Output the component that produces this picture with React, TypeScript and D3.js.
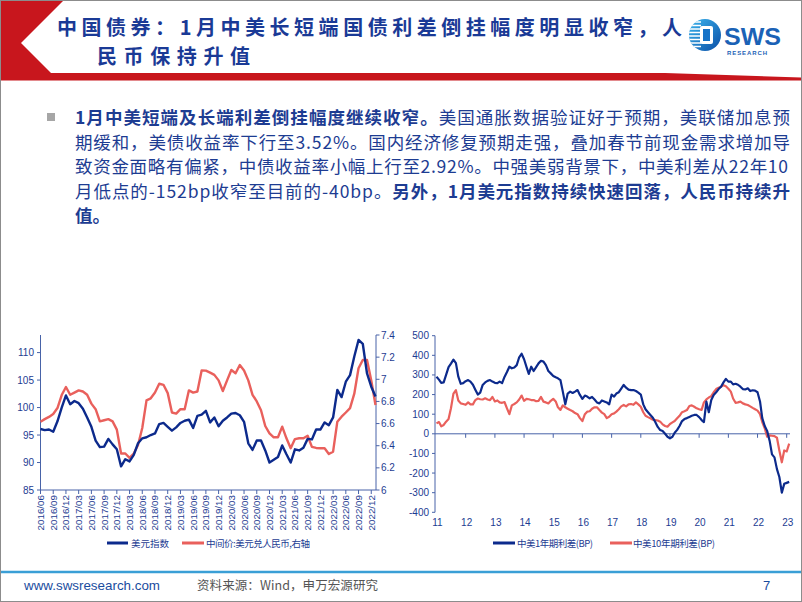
import React from 'react';
import * as d3 from 'd3';

// ---------- Left chart data (monthly, 2016/06 – 2023/01) ----------
const dxy = [
  96.1, 95.9, 96.0, 95.6, 97.5, 100.0, 102.2, 100.6, 101.2, 100.8,
  99.8, 98.2, 96.5, 94.0, 92.8, 92.9, 94.3, 93.3, 92.4, 89.3,
  90.6, 90.2, 91.4, 93.5, 94.4, 94.6, 95.0, 95.3, 97.0, 97.2,
  96.5, 95.8, 96.4, 97.2, 97.6, 97.8, 96.3, 98.5, 98.7, 99.4,
  97.3, 98.2, 96.6, 97.6, 98.2, 98.9, 99.0, 98.6, 97.4, 93.5,
  92.3, 94.0, 94.0, 92.2, 90.0, 90.5, 91.0, 93.1, 91.5, 90.0,
  92.4, 92.2, 92.7, 94.3, 94.2, 96.0, 96.0, 97.3, 96.8, 98.2,
  103.2, 101.9, 104.7, 105.9, 109.3, 112.3, 111.6, 106.2, 103.8, 102.0,
];
const usdcny = [
  6.617, 6.64, 6.66, 6.687, 6.74, 6.858, 6.93, 6.86, 6.88, 6.90,
  6.89, 6.86, 6.78, 6.73, 6.62, 6.63, 6.64, 6.62, 6.545, 6.33,
  6.33, 6.29, 6.33, 6.406, 6.56, 6.81, 6.828, 6.88, 6.96, 6.95,
  6.875, 6.70, 6.69, 6.73, 6.73, 6.90, 6.88, 6.89, 7.08, 7.078,
  7.06, 7.04, 6.99, 6.894, 6.99, 7.084, 7.054, 7.129, 7.08, 6.99,
  6.86, 6.80, 6.72, 6.578, 6.512, 6.476, 6.476, 6.572, 6.467, 6.377,
  6.46, 6.467, 6.467, 6.49, 6.39, 6.38, 6.377, 6.377, 6.325, 6.346,
  6.617, 6.662, 6.70, 6.74, 6.87, 7.10, 7.174, 7.174, 6.99, 6.768,
];
const quarterLabels = [
  '2016/06', '2016/09', '2016/12', '2017/03', '2017/06', '2017/09', '2017/12',
  '2018/03', '2018/06', '2018/09', '2018/12', '2019/03', '2019/06', '2019/09',
  '2019/12', '2020/03', '2020/06', '2020/09', '2020/12', '2021/03', '2021/06',
  '2021/09', '2021/12', '2022/03', '2022/06', '2022/09', '2022/12',
];
const leftTicks = [85, 90, 95, 100, 105, 110];
const rightTicks = [6, 6.2, 6.4, 6.6, 6.8, 7, 7.2, 7.4];

// ---------- Right chart data (monthly, 2011/01 – 2023/02, bp) ----------
const spread1y = [
  291, 276, 260, 262, 300, 340, 358, 378, 360, 291,
  255, 258, 268, 274, 266, 250, 225, 200, 210, 249,
  262, 270, 274, 266, 260, 258, 266, 258, 290, 315,
  342, 334, 338, 350, 390, 408, 380, 340, 305, 342,
  320, 340, 359, 372, 368, 350, 320, 308, 295, 288,
  283, 274, 215, 150, 205, 215, 208, 215, 223, 198,
  178, 195, 190, 181, 188, 175, 160, 155, 170, 165,
  160, 150, 200, 190, 205, 212, 230, 249, 235, 225,
  223, 223, 218, 210, 200, 150, 125, 110, 96, 82,
  60, 35, 19, 14, 0, -15, -23, -15, 5, 20,
  40, 65, 75, 80, 86, 92, 96, 96, 85, 70,
  60, 164, 110, 172, 198, 212, 228, 240, 262, 280,
  266, 266, 252, 255, 250, 240, 228, 226, 232, 218,
  222, 220, 212, 165, 80, 40, 15, -35, -105, -120,
  -180, -220, -300, -255, -250, -245,
];
const spread10y = [
  53, 60, 38, 45, 62, 75, 130, 205, 222, 170,
  155, 152, 148, 160, 150, 150, 172, 180, 176, 175,
  181, 175, 172, 188, 165, 170, 160, 158, 162, 130,
  100, 145, 152, 160, 175, 195, 168, 178, 176, 172,
  172, 166, 168, 188, 164, 160, 155, 168, 178, 165,
  135, 122, 145, 135, 128, 121, 115, 106, 100, 80,
  65, 100, 113, 115, 128, 135, 135, 121, 108, 100,
  80, 87, 100, 104, 113, 125, 140, 147, 140, 150,
  152, 148, 160, 150, 138, 110, 92, 85, 79, 72,
  70, 68, 62, 48, 40, 36, 50, 58, 65, 79,
  92, 110, 115, 121, 142, 145, 138, 130, 125, 122,
  160, 175, 185, 192, 212, 228, 235, 240, 248, 242,
  230, 215, 180, 158, 160, 164, 155, 150, 147, 140,
  132, 125, 118, 100, 60, 28, -15, -8, -10, -12,
  -20, -85, -145, -85, -90, -50,
];
const spreadTicks = [-400, -300, -200, -100, 0, 100, 200, 300, 400, 500];
const yearLabels = ['11', '12', '13', '14', '15', '16', '17', '18', '19', '20', '21', '22', '23'];

// ---------- Texts ----------
const titleLine1 = '中国债券：1月中美长短端国债利差倒挂幅度明显收窄，人';
const titleLine2 = '民币保持升值';
const bodyLines: { t: string; b: boolean }[][] = [
  [{ t: '1月中美短端及长端利差倒挂幅度继续收窄。', b: true }, { t: '美国通胀数据验证好于预期，美联储加息预', b: false }],
  [{ t: '期缓和，美债收益率下行至3.52%。国内经济修复预期走强，叠加春节前现金需求增加导', b: false }],
  [{ t: '致资金面略有偏紧，中债收益率小幅上行至2.92%。中强美弱背景下，中美利差从22年10', b: false }],
  [{ t: '月低点的-152bp收窄至目前的-40bp。', b: false }, { t: '另外，1月美元指数持续快速回落，人民币持续升', b: true }],
  [{ t: '值。', b: true }],
];
const bodyWidths = [715, 715, 713, 715, 0];

const NAVY = '#0c2a8c';
const RED = '#e9605c';
const TXT = '#1d3c92';
const AX = '#4863a8';
const CJK = '"Noto Sans CJK SC", "Noto Sans", sans-serif';
const LAT = '"Liberation Sans", Arial, sans-serif';

export default function App() {
  // left chart scales
  const lx = d3.scaleLinear().domain([0, dxy.length - 1]).range([40.5, 375.5]);
  const ly = d3.scaleLinear().domain([85, 113.2]).range([490, 335]);
  const ry = d3.scaleLinear().domain([6, 7.4]).range([490, 335]);
  const dxyPath = d3.line<number>().x((_, i) => lx(i)).y((d) => ly(d))(dxy) || '';
  const cnyPath = d3.line<number>().x((_, i) => lx(i)).y((d) => ry(d))(usdcny) || '';

  // right chart scales
  const tx = d3.scaleTime().domain([new Date(2011, 0, 1), new Date(2023, 0, 1)]).range([436.5, 786.7]);
  const vy = d3.scaleLinear().domain([-400, 500]).range([512.3, 335.7]);
  const dateOf = (i: number) => new Date(2011, i, 1);
  const s1Path = d3.line<number>().x((_, i) => tx(dateOf(i))).y((d) => vy(d))(spread1y) || '';
  const s10Path = d3.line<number>().x((_, i) => tx(dateOf(i))).y((d) => vy(d))(spread10y) || '';

  return (
    <svg width={802} height={602} style={{ position: 'absolute', left: 0, top: 0, background: '#fff' }}>
      <style>{`body{margin:0}`}</style>
      <defs>
        <linearGradient id="logoG" x1="0" y1="0" x2="1" y2="1">
          <stop offset="0" stopColor="#3bb5ee" />
          <stop offset="1" stopColor="#0b4ea6" />
        </linearGradient>
        <clipPath id="logoClip">
          <circle cx={705} cy={35} r={16} />
        </clipPath>
      </defs>
      <rect x={0} y={0} width={802} height={602} fill="#fff" />

      {/* header */}
      <polygon points="1,1 63,1 21,43 51,73 665,73 801,77.5 801,80.5 1,80.5" fill="#c8161d" />
      <text x={57} y={35} fontFamily={CJK} fontWeight={700} fontSize={20} fill="#1a3a96" textLength={625} lengthAdjust="spacing">
        {titleLine1}
      </text>
      <text x={97} y={64} fontFamily={CJK} fontWeight={700} fontSize={20} fill="#1a3a96" textLength={153} lengthAdjust="spacing">
        {titleLine2}
      </text>

      {/* logo */}
      <circle cx={705} cy={35} r={16} fill="url(#logoG)" />
      <g clipPath="url(#logoClip)">
        {[22, 25.5, 29, 32.5, 36, 39.5, 43, 46.5].map((y) => (
          <line key={y} x1={687} x2={701} y1={y} y2={y} stroke="#fff" strokeWidth={1.3} />
        ))}
        <rect x={700} y={26} width={13} height={18} rx={2} fill="#fff" />
        <rect x={703} y={29} width={7} height={12} fill="#1673c8" />
      </g>
      <text x={724} y={45} fontFamily={LAT} fontWeight={700} fontSize={23} fill="#1b62b6" textLength={57} lengthAdjust="spacingAndGlyphs">SWS</text>
      <text x={727} y={54.5} fontFamily={LAT} fontWeight={700} fontSize={6} fill="#1b62b6" textLength={40} lengthAdjust="spacing">RESEARCH</text>

      {/* bullet text */}
      <rect x={47} y={113} width={8} height={8} fill="#a6a6a6" />
      {bodyLines.map((line, li) => (
        <text
          key={li}
          x={75}
          y={124 + li * 24.5}
          fontFamily={CJK}
          fontSize={17.5}
          fill={TXT}
          {...(bodyWidths[li] ? { textLength: bodyWidths[li], lengthAdjust: 'spacing' } : {})}
        >
          {line.map((seg, si) => (
            <tspan key={si} fontWeight={seg.b ? 700 : 400}>{seg.t}</tspan>
          ))}
        </text>
      ))}

      {/* ---------- left chart ---------- */}
      <g fontFamily={LAT} fontSize={10} fill={TXT}>
        <line x1={40.5} x2={40.5} y1={335} y2={490} stroke={AX} />
        <line x1={376} x2={376} y1={335} y2={490} stroke={AX} />
        <line x1={40.5} x2={376} y1={490} y2={490} stroke={AX} />
        {leftTicks.map((t) => (
          <g key={t}>
            <line x1={37} x2={40.5} y1={ly(t)} y2={ly(t)} stroke={AX} />
            <text x={34} y={ly(t) + 3.5} textAnchor="end">{t}</text>
          </g>
        ))}
        {rightTicks.map((t) => (
          <g key={t}>
            <line x1={376} x2={379.5} y1={ry(t)} y2={ry(t)} stroke={AX} />
            <text x={381} y={ry(t) + 3.5}>{t}</text>
          </g>
        ))}
        {quarterLabels.map((lab, k) => {
          const x = lx(k * 3);
          return (
            <g key={lab}>
              <line x1={x} x2={x} y1={490} y2={494} stroke={AX} />
              <text transform={`translate(${x + 3.5},495) rotate(-90)`} textAnchor="end" fontSize={9.8}>{lab}</text>
            </g>
          );
        })}
      </g>
      <path d={cnyPath} fill="none" stroke={RED} strokeWidth={2.4} strokeLinejoin="round" />
      <path d={dxyPath} fill="none" stroke={NAVY} strokeWidth={2.4} strokeLinejoin="round" />
      {/* left legend */}
      <line x1={107} x2={128} y1={543} y2={543} stroke={NAVY} strokeWidth={3} />
      <text x={131} y={546.5} fontFamily={CJK} fontSize={9.5} fill={TXT}>美元指数</text>
      <line x1={182} x2={204} y1={543} y2={543} stroke={RED} strokeWidth={3} />
      <text x={206} y={546.5} fontFamily={CJK} fontSize={9.5} fill={TXT} textLength={104} lengthAdjust="spacing">中间价:美元兑人民币,右轴</text>

      {/* ---------- right chart ---------- */}
      <g fontFamily={LAT} fontSize={10} fill={TXT}>
        <line x1={435} x2={435} y1={335.7} y2={512.3} stroke={AX} />
        {spreadTicks.map((t) => (
          <g key={t}>
            <line x1={432} x2={435} y1={vy(t)} y2={vy(t)} stroke={AX} />
            <text x={429} y={vy(t) + 3.5} textAnchor="end">{t}</text>
          </g>
        ))}
        <line x1={435} x2={790} y1={vy(0)} y2={vy(0)} stroke={AX} />
        {yearLabels.map((lab, k) => {
          const x = tx(new Date(2011 + k, 0, 1));
          return (
            <g key={lab}>
              {k > 0 && <line x1={x} x2={x} y1={vy(0)} y2={vy(0) + 4} stroke={AX} />}
              <text x={x + 1} y={526} textAnchor="middle">{lab}</text>
            </g>
          );
        })}
      </g>
      <path d={s10Path} fill="none" stroke={RED} strokeWidth={2.2} strokeLinejoin="round" />
      <path d={s1Path} fill="none" stroke={NAVY} strokeWidth={2.2} strokeLinejoin="round" />
      {/* right legend */}
      <line x1={493} x2={515} y1={543} y2={543} stroke={NAVY} strokeWidth={3} />
      <text x={517} y={546.5} fontFamily={CJK} fontSize={9.5} fill={TXT} textLength={76} lengthAdjust="spacing">中美1年期利差(BP)</text>
      <line x1={610} x2={632} y1={543} y2={543} stroke={RED} strokeWidth={3} />
      <text x={633} y={546.5} fontFamily={CJK} fontSize={9.5} fill={TXT} textLength={82} lengthAdjust="spacing">中美10年期利差(BP)</text>

      {/* footer */}
      <line x1={0} x2={802} y1={572} y2={572} stroke="#3a9fd6" strokeWidth={2.5} />
      <text x={24} y={590} fontFamily={LAT} fontSize={13} fill="#1a4c9e" textLength={136} lengthAdjust="spacingAndGlyphs">www.swsresearch.com</text>
      <text x={197} y={590} fontFamily={CJK} fontSize={12.5} fill="#555" textLength={181} lengthAdjust="spacing">资料来源：Wind，申万宏源研究</text>
      <text x={763} y={590} fontFamily={LAT} fontSize={13} fill="#1a4c9e">7</text>

      {/* slide frame */}
      <rect x={0.5} y={0.5} width={801} height={601} fill="none" stroke="#8c8c8c" />
    </svg>
  );
}
